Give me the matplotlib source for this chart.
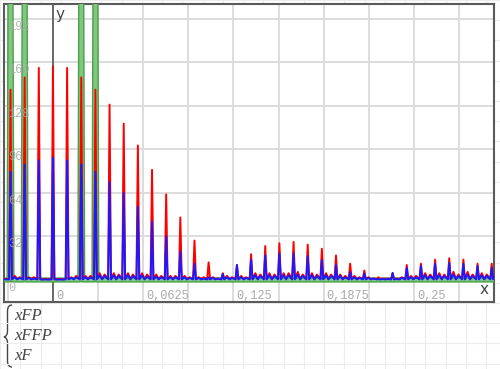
import numpy as np
import matplotlib
matplotlib.use("Agg")
import matplotlib.pyplot as plt
from matplotlib.path import Path
from matplotlib.patches import PathPatch
import matplotlib.patheffects as pe
from matplotlib.transforms import ScaledTranslation, blended_transform_factory

# ---------------- data ----------------
freq = [-0.0294, -0.0196, -0.0098, 0.0, 0.0098, 0.0196, 0.0294, 0.0392, 0.049,
        0.0588, 0.0686, 0.0784, 0.0882, 0.098, 0.1078, 0.1176, 0.1274, 0.1372,
        0.147, 0.1568, 0.1666, 0.1764, 0.1862, 0.196, 0.2058, 0.2156, 0.2254,
        0.2352, 0.245, 0.2548, 0.2646, 0.2744, 0.2842, 0.294, 0.3038]

xFP_peak = [140, 149, 156, 157, 156, 149, 140, 129, 115, 99, 81, 63, 46, 29, 13,
            5, 11, 19, 25, 27, 28, 26, 23, 18, 12, 7, 2, 5, 11, 12, 15, 16, 15, 12, 12]
xFFP_peak = [79.5, 85, 88, 90, 88, 85, 79.5, 72, 64, 54, 43, 32, 21, 12, 2,
             4.4, 11, 14.7, 18, 19.5, 19.5, 17.7, 14.7, 11, 5.9, 4.8, 0.7, 5.2, 8.8,
             10.3, 12, 12.5, 11.8, 10.3, 8.8]
xF_peak = [330, 330, 0, 0, 0, 330, 330, 0, 0, 0, 0, 0, 0, 0, 0, 0, 0, 0, 0, 0,
           0, 0, 0, 0, 0, 0, 0, 0, 0, 0, 0, 0, 0, 0, 0]

# small side-lobes between the harmonics (two per gap)
xFP_bump = [(3, 2), (2, 2), (0.5, 0.5), (0.5, 0.5), (2, 3), (3, 3), (5, 4), (5, 4),
            (5, 4), (5, 4), (4, 3), (3, 3), (3, 2), (2, 2), (2, 1), (3, 2), (3, 2),
            (5, 4), (5, 4), (5, 5), (6, 4), (5, 4), (5, 4), (4, 3), (3, 2), (2, 1),
            (1, 1), (1, 2), (3, 3), (5, 4), (5, 4), (6, 4), (6, 4), (5, 4), (5, 4)]
xFFP_bump = [(2, 1.5), (1.5, 1), (0.3, 0.3), (0.3, 0.3), (1.5, 2), (2, 2), (3.5, 3),
             (3.5, 3), (3.5, 3), (3.5, 2.5), (2.5, 2), (2, 2), (2, 1.5), (1.5, 1),
             (1.5, 1), (2, 1.5), (2, 1.5), (3.5, 3), (3.5, 3), (3.5, 3.5), (4, 3),
             (3.5, 3), (3.5, 3), (3, 2), (2, 1.5), (1.5, 1), (0.7, 0.7), (0.7, 1.5),
             (2, 2), (3.5, 3), (3.5, 3), (4, 3), (4, 3), (3.5, 3), (3.5, 3)]
xF_bump = [(0, 0)] * len(freq)

xFP_floor = 0.8
xFFP_floor = 0.4
xF_floor = 0.0

x_ticklabels = ["0", "0,0625", "0,125", "0,1875", "0,25"]
x_tickvals = [0, 0.0625, 0.125, 0.1875, 0.25]
y_tickvals = [0, 32, 64, 96, 128, 160, 192]
legend_names = ["xFP", "xFFP", "xF"]

W, H = 500, 369
fig = plt.figure(figsize=(W / 100, H / 100), dpi=100)
fig.patch.set_facecolor("white")

# worksheet background grid
bg = fig.add_axes([0, 0, 1, 1], zorder=0)
bg.set_xlim(0, W)
bg.set_ylim(H, 0)
bg.axis("off")
for gx in np.arange(0, W + 1, 20.25):
    bg.axvline(gx, color="#ececec", lw=0.8)
for gy in np.arange(0, H + 1, 20.2):
    bg.axhline(gy, color="#ececec", lw=0.8)

# main plot
L, R, T, B = 4, 494, 4, 302
ax = fig.add_axes([L / W, (H - B) / H, (R - L) / W, (B - T) / H], zorder=1)
ax.set_facecolor("white")
ax.set_xlim(-0.0339, 0.3054)
ax.set_ylim(-16.2, 203)
ax.set_xticks(np.arange(-0.03125, 0.31, 0.03125))
ax.set_yticks(y_tickvals)
ax.grid(True, color="#dcdcdc", lw=1.4)
ax.set_axisbelow(True)
ax.tick_params(length=0, labelbottom=False, labelleft=False)
for s in ax.spines.values():
    s.set_color("#5a5a5a")
    s.set_linewidth(1.5)

ax.axvline(0, color="#555555", lw=1.2, zorder=2)
ax.axhline(0, color="#555555", lw=1.0, zorder=2)

d = 0.0098


def build(peaks, bumps, low):
    xs = [-0.036]
    ys = [low]
    for f, p, (b1, b2) in zip(freq, peaks, bumps):
        xs += [f - 0.1 * d, f, f + 0.1 * d, f + 0.3 * d, f + 0.47 * d, f + 0.65 * d]
        ys += [low, p, low, b1, low, b2]
    xs.append(0.32)
    ys.append(low)
    return np.array(xs), np.array(ys)


gx_, gy_ = build(xF_peak, xF_bump, xF_floor)
ax.plot(gx_, gy_, color="#80c880", lw=1.8, zorder=3,
        path_effects=[pe.Stroke(linewidth=3.8, foreground="#4aa04a"), pe.Normal()])
rx, ry = build(xFP_peak, xFP_bump, xFP_floor)
ax.plot(rx, ry, color="#ff0000", lw=1.4, zorder=4)
bx, by = build(xFFP_peak, xFFP_bump, xFFP_floor)
ax.plot(bx, by, color="#1a1aff", lw=1.4, zorder=5)

mono = "Liberation Mono"
lab_col = "#aaaaaa"
off_x = ScaledTranslation(3 / 100, -10 / 100, fig.dpi_scale_trans)
for v, t in zip(x_tickvals, x_ticklabels):
    ax.text(v, 0, t, transform=ax.transData + off_x, ha="left", va="top",
            fontsize=8.6, family=mono, color=lab_col, zorder=6)
ytr = blended_transform_factory(ax.transAxes, ax.transData)
off_y = ScaledTranslation(0, -2 / 100, fig.dpi_scale_trans)
for v in y_tickvals:
    ax.text((8 - L) / (R - L), v, str(v), transform=ytr + off_y, ha="left",
            va="top", fontsize=8.6, family=mono, color=lab_col, alpha=0.85, zorder=6)

fig.text(489 / W, 1 - 289 / H, "x", ha="right", va="center", fontsize=11,
         color="#444444", zorder=5)
fig.text(56 / W, 1 - 15 / H, "y", ha="left", va="center", fontsize=11,
         color="#444444", zorder=5)

# legend brace
verts = [(12, 305), (7.5, 305), (7.5, 311), (7.5, 316),
         (7.5, 331), (7.5, 331), (7.5, 331), (7.5, 336), (4, 337), (4, 337),
         (4, 337), (7.5, 338), (7.5, 343), (7.5, 343),
         (7.5, 361), (7.5, 361), (7.5, 361), (7.5, 367), (12, 367)]
codes = [Path.MOVETO, Path.CURVE3, Path.CURVE3, Path.LINETO,
         Path.LINETO, Path.LINETO, Path.LINETO, Path.CURVE3, Path.CURVE3, Path.LINETO,
         Path.LINETO, Path.CURVE3, Path.CURVE3, Path.LINETO,
         Path.LINETO, Path.LINETO, Path.LINETO, Path.CURVE3, Path.CURVE3]
bg.add_patch(PathPatch(Path(verts, codes), fill=False, edgecolor="#444444", lw=1.0))

for name, yc in zip(legend_names, [316, 336, 356]):
    fig.text(14 / W, 1 - yc / H, name, ha="left", va="center", fontsize=12,
             family="Liberation Serif", style="italic", color="#444444")

fig.savefig("out.png", dpi=100)
